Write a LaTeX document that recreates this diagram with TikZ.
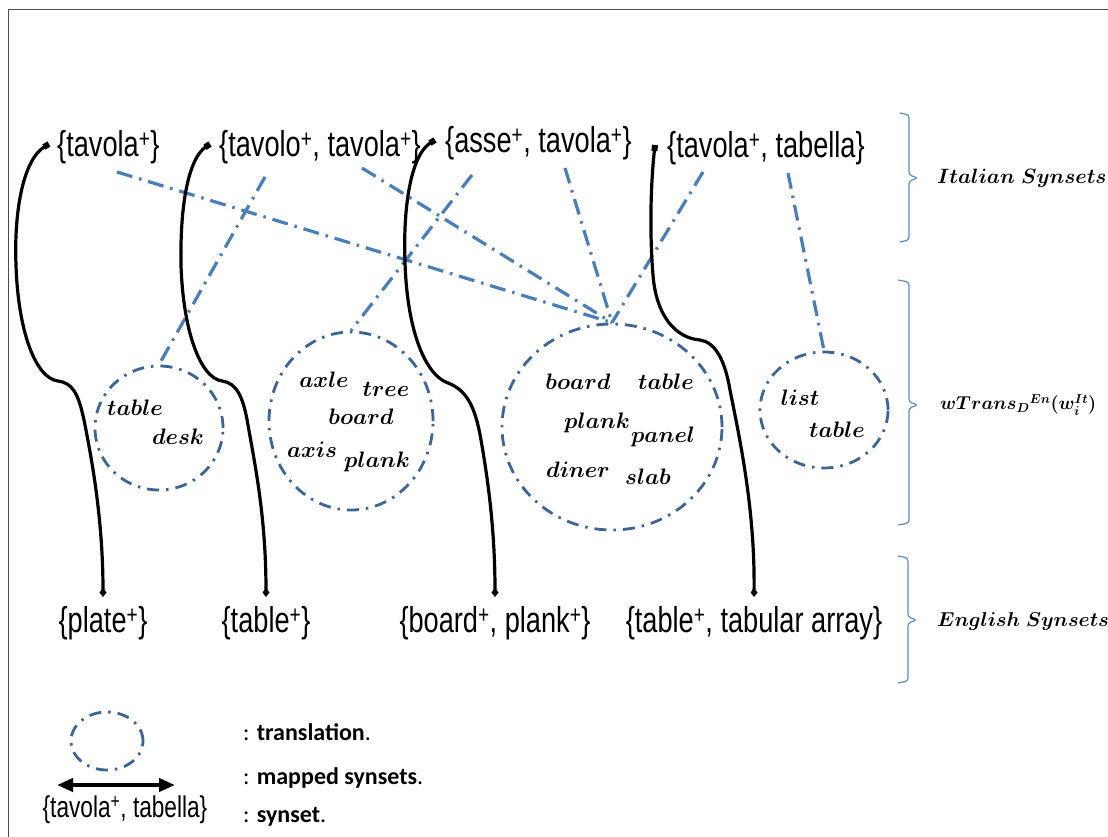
\documentclass[tikz,border=0pt]{standalone}
\usepackage{amsmath}
\usepackage{graphicx}
\usepackage{fontspec}
\usetikzlibrary{arrows.meta,shapes.geometric}
\newfontfamily\synfont[FakeStretch=0.755]{Liberation Sans}
\newfontfamily\legfont{Carlito}
\definecolor{linkblue}{HTML}{4A7EBB}
\definecolor{circblue}{HTML}{3C6596}
\definecolor{bracecol}{HTML}{5B8BC7}
\definecolor{framecol}{HTML}{4A4A4A}
\newcommand{\bw}[1]{\scalebox{1.08}{$\boldsymbol{#1}$}}
\begin{document}
\begin{tikzpicture}[x=1pt,y=-1pt,
  synset/.style={font=\synfont\fontsize{36}{40}\selectfont, inner sep=0pt},
  trans/.style={ellipse, draw=circblue, line width=2.8pt,
    dash pattern=on 12pt off 7pt on 2.5pt off 7pt, inner sep=0pt},
  word/.style={font=\fontsize{20.74}{24}\selectfont, inner sep=0pt},
  link/.style={draw=linkblue, line width=3.2pt,
    dash pattern=on 16pt off 7pt on 2.5pt off 7pt},
  mapping/.style={line width=3.2pt,
    {Square[length=6pt,width=6pt]}-{Diamond[length=9pt,width=7pt]}},
  levelbrace/.style={draw=bracecol, line width=1.2pt, rounded corners=3pt},
  levellabel/.style={anchor=west, font=\fontsize{20.74}{24}\selectfont, inner sep=0pt},
  legtext/.style={anchor=west, font=\legfont\fontsize{24}{28}\selectfont, inner sep=0pt}
]
\useasboundingbox (0,0) rectangle (1108,837);
% frame
\draw[framecol, line width=1.3pt] (8.5,837) -- (8.5,9.5) -- (1108,9.5);

% Italian synsets
\node[synset, anchor=west] (it1) at (57,147) {\{tavola\textsuperscript{+}\}};
\node[synset, anchor=west] (it2) at (219,147) {\{tavolo\textsuperscript{+}, tavola\textsuperscript{+}\}};
\node[synset, anchor=west] (it3) at (445,143) {\{asse\textsuperscript{+}, tavola\textsuperscript{+}\}};
\node[synset, anchor=west] (it4) at (667,148) {\{tavola\textsuperscript{+}, tabella\}};

% English synsets
\node[synset] (en1) at (103,623) {\{plate\textsuperscript{+}\}};
\node[synset] (en2) at (266,623) {\{table\textsuperscript{+}\}};
\node[synset] (en3) at (495,623) {\{board\textsuperscript{+}, plank\textsuperscript{+}\}};
\node[synset] (en4) at (754,623) {\{table\textsuperscript{+}, tabular array\}};

% translation sets
\node[trans, minimum width=128, minimum height=124] (c1) at (159,428) {};
\node[trans, minimum width=164, minimum height=178] (c2) at (351,421) {};
\node[trans, minimum width=220, minimum height=206] (c3) at (612,427) {};
\node[trans, minimum width=128, minimum height=116] (c4) at (824,410) {};

\node[word] (w11) at (135,408) {\bw{table}};
\node[word] (w12) at (178,437) {\bw{desk}};

\node[word] (w21) at (324,380) {\bw{axle}};
\node[word] (w22) at (386,389) {\bw{tree}};
\node[word] (w23) at (361,417) {\bw{board}};
\node[word] (w24) at (312,450) {\bw{axis}};
\node[word] (w25) at (377,462) {\bw{plank}};

\node[word] (w31) at (578,382) {\bw{board}};
\node[word] (w32) at (666,382) {\bw{table}};
\node[word] (w33) at (597,423) {\bw{plank}};
\node[word] (w34) at (663,437) {\bw{panel}};
\node[word] (w35) at (578,470) {\bw{diner}};
\node[word] (w36) at (648,477) {\bw{slab}};

\node[word] (w41) at (800,398) {\bw{list}};
\node[word] (w42) at (837,430) {\bw{table}};

% translation links
\draw[link] ([shift={(60,25)}]it1.west) -- (c3.north);
\draw[link] ([shift={(46,30)}]it2.west) -- (c1.north);
\draw[link] ([shift={(143,21)}]it2.west) -- (c3.north);
\draw[link] ([shift={(27,32)}]it3.west) -- (c2.north);
\draw[link] ([shift={(120,25)}]it3.west) -- (c3.north);
\draw[link] ([shift={(36,24)}]it4.west) -- (c3.north);
\draw[link] ([shift={(121,25)}]it4.west) -- (c4.north);

% mapped synsets
\draw[mapping] ([shift={(-8,-3)}]it1.west)
  .. controls (22,160) and (14,215) .. (16,265)
  .. controls (18,330) and (35,378) .. (58,381)
  .. controls (72,383) and (78,392) .. (84,420)
  .. controls (92,460) and (103,520) .. ([yshift=9pt]en1.north);
\draw[mapping] ([shift={(-9,-3)}]it2.west)
  .. controls (186,160) and (180,215) .. (181,265)
  .. controls (183,330) and (200,378) .. (222,381)
  .. controls (236,383) and (243,395) .. (248,425)
  .. controls (256,470) and (266,520) .. ([yshift=9pt]en2.north);
\draw[mapping] ([shift={(-10,-3)}]it3.west)
  .. controls (410,155) and (403,210) .. (405,262)
  .. controls (407,330) and (425,375) .. (448,383)
  .. controls (466,390) and (475,405) .. (481,440)
  .. controls (488,480) and (495,530) .. ([yshift=9pt]en3.north);
\draw[mapping] ([shift={(-12,-3)}]it4.west)
  .. controls (650,190) and (650,240) .. (653,275)
  .. controls (656,315) and (675,338) .. (700,340)
  .. controls (715,342) and (725,360) .. (730,390)
  .. controls (740,440) and (755,510) .. ([yshift=9pt]en4.north);

% level braces and labels
\draw[levelbrace] (900,113) -- (909,115) -- (909,175) -- (918,178) -- (909,181) -- (909,240) -- (900,242);
\node[levellabel] (lit) at (937,178) {$\boldsymbol{Italian\ Synsets}$};
\draw[levelbrace] (898,280) -- (909,282) -- (909,402) -- (918,405) -- (909,408) -- (909,523) -- (898,525);
\node[levellabel] (ltr) at (940,405) {\scalebox{0.9}{$\boldsymbol{wTrans_{D}{}^{En}(w_i^{It})}$}};
\draw[levelbrace] (898,556) -- (908,558) -- (908,617) -- (917,620) -- (908,623) -- (908,681) -- (898,683);
\node[levellabel] (len) at (937,621) {\scalebox{0.97}{$\boldsymbol{English\ Synsets}$}};

% legend
\node[trans, minimum width=72, minimum height=58] (lc) at (107,741) {};
\coordinate (la) at (57,785);
\coordinate (lb) at (175,785);
\draw[line width=4pt, {Triangle[length=16pt,width=13pt]}-{Triangle[length=16pt,width=13pt]}] (la) -- (lb);
\node[synset, font=\synfont\fontsize{30}{34}\selectfont] (ls) at (125,810) {\{tavola\textsuperscript{+}, tabella\}};
\node[legtext] (t1) at (243,732) {: \textbf{translation}.};
\node[legtext] (t2) at (243,778) {: \textbf{mapped synsets}.};
\node[legtext] (t3) at (243,817) {: \textbf{synset}.};
\end{tikzpicture}
\end{document}
